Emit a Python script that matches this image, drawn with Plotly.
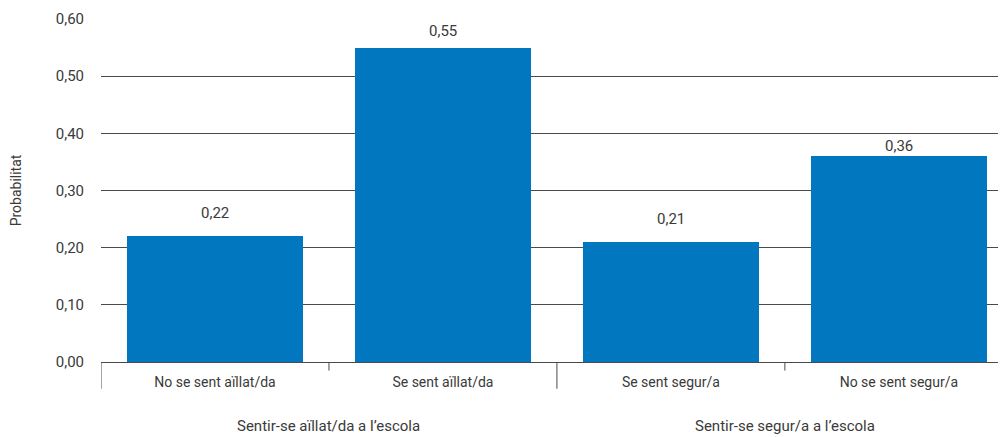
import plotly.graph_objects as go

categories = ["No se sent aïllat/da", "Se sent aïllat/da", "Se sent segur/a", "No se sent segur/a"]
groups = ["Sentir-se aïllat/da a l’escola", "Sentir-se segur/a a l’escola"]
group_of = [0, 0, 1, 1]
values = [0.22, 0.55, 0.21, 0.36]
y_ticks = [0.0, 0.1, 0.2, 0.3, 0.4, 0.5, 0.6]

FONT = "Roboto, Arial, sans-serif"
TEXT = "#3a3a3a"
LINE = "#4a4a4a"

# vertical offset (px) of each value label above its bar
label_shift = [23, 17, 23, 10]

xs = list(range(len(categories)))

fig = go.Figure(
    go.Bar(
        x=xs,
        y=values,
        width=0.77,
        marker=dict(color="#0077be", line=dict(width=0)),
        hoverinfo="none",
    )
)

# value labels above bars
for x, v, s in zip(xs, values, label_shift):
    fig.add_annotation(
        x=x, y=v, text=f"{v:.2f}".replace(".", ","),
        showarrow=False, yshift=s, font=dict(size=15, color=TEXT, family=FONT),
    )

# group labels and dividers
for g, name in enumerate(groups):
    members = [x for x, gi in zip(xs, group_of) if gi == g]
    center = sum(members) / len(members)
    fig.add_annotation(
        x=center, y=0, yref="paper", text=name, showarrow=False,
        yshift=-75, font=dict(size=15, color=TEXT, family=FONT),
    )
    left = min(members) - 0.5
    fig.add_shape(type="line", xref="x", yref="paper", x0=left, x1=left,
                  y0=0, y1=-0.078, line=dict(color=LINE, width=1))
    # short tick between the two categories of the group
    mid = min(members) + 0.5
    fig.add_shape(type="line", xref="x", yref="paper", x0=mid, x1=mid,
                  y0=0, y1=-0.025, line=dict(color=LINE, width=1))

# page body has an 8px margin, so the figure is sized to fit the window
fig.update_layout(
    width=998,
    height=429,
    margin=dict(l=93, r=0, t=11, b=75),
    plot_bgcolor="white",
    paper_bgcolor="white",
    separators=",.",
    showlegend=False,
    bargap=0,
    font=dict(family=FONT, size=14, color=TEXT),
    xaxis=dict(
        range=[-0.5, 3.47],
        tickvals=xs,
        ticktext=categories,
        showgrid=False,
        zeroline=False,
        showline=False,
        ticks="",
        ticklabelstandoff=10,
        automargin=False,
        tickfont=dict(size=14, color=TEXT),
        fixedrange=True,
    ),
    yaxis=dict(
        range=[0, 0.6],
        tickvals=y_ticks,
        tickformat=".2f",
        showgrid=True,
        gridcolor=LINE,
        gridwidth=1,
        zeroline=True,
        zerolinecolor=LINE,
        zerolinewidth=1,
        ticks="",
        ticklabelstandoff=16,
        automargin=False,
        tickfont=dict(size=15, color=TEXT),
        title=dict(text="Probabilitat", font=dict(size=14, color=TEXT), standoff=36),
        fixedrange=True,
    ),
)

fig.write_html("out.html")
